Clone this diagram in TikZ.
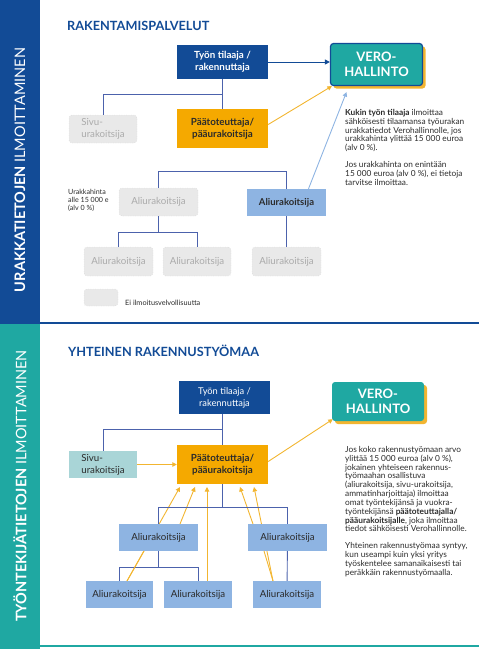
\documentclass[tikz,border=0pt]{standalone}
\usepackage{fontspec}
\setmainfont{Lato}
\usepackage{tikz}
\usetikzlibrary{arrows.meta,calc,positioning,shadows}
\definecolor{vdark}{HTML}{124B96}
\definecolor{vteal}{HTML}{1FA8A2}
\definecolor{vorange}{HTML}{F5A900}
\definecolor{vlight}{HTML}{8EB4E2}
\definecolor{vgreyfill}{HTML}{E9E9E9}
\definecolor{vgreyline}{HTML}{C9C9C9}
\definecolor{vgreytext}{HTML}{ABABAB}
\definecolor{vsivu}{HTML}{A9D5D7}
\definecolor{vline}{HTML}{4C62AC}
\definecolor{vgold}{HTML}{F2B530}
\definecolor{vtext}{HTML}{2B2B2B}
\tikzset{
  box/.style={rectangle,inner sep=0pt,align=center,font=\fontsize{9.7}{12}\selectfont},
  tilaajabox/.style={box,fill=vdark,text=white},
  paabox/.style={box,fill=vorange,text=vtext,font=\fontsize{9.8}{12}\selectfont\bfseries,minimum width=91pt,minimum height=39pt},
  alibox/.style={box,fill=vlight,text=vtext},
  greybox/.style={box,fill=vgreyfill,draw=vgreyline,dotted,rounded corners=3pt,text=vgreytext},
  verobox/.style={box,fill=vteal,text=white,rounded corners=3pt,font=\fontsize{13}{15.5}\selectfont\bfseries,
    drop shadow={fill=vgold,opacity=1,shadow xshift=3pt,shadow yshift=-3pt}},
  conn/.style={draw=vline,line width=0.9pt},
  yarrow/.style={draw=vgold,line width=0.9pt,-{Triangle[length=4.5pt,width=4.5pt]}},
  body/.style={anchor=north west,align=left,inner sep=0pt,text=vtext,font=\fontsize{8.3}{8.85}\selectfont},
  titletext/.style={anchor=west,inner sep=0pt,text=vdark,font=\fontsize{12.7}{14}\selectfont\bfseries},
  sidetext/.style={rotate=90,text=white,inner sep=0pt,font=\fontsize{14.5}{16}\selectfont}
}

\begin{document}
\begin{tikzpicture}[x=1pt,y=-1pt]
\useasboundingbox (0,0) rectangle (479,649);
% side bands
\fill[vdark] (0,0) rectangle (40,324);
\fill[vteal] (0,324) rectangle (40,649);
\draw[vdark,line width=1.5pt] (40,323) -- (479,323);
\draw[vteal,line width=1.5pt] (40,646) -- (479,646);
\node[sidetext] (side1) at (20,170) {\textbf{URAKKATIETOJEN} ILMOITTAMINEN};
\node[sidetext] (side2) at (20,486) {\textbf{TYÖNTEKIJÄTIETOJEN} ILMOITTAMINEN};

% ---- upper part: rakentamispalvelut ----
\node[titletext] (title1) at (67,26) {RAKENTAMISPALVELUT};
\node[tilaajabox,font=\fontsize{9.8}{12}\selectfont\bfseries,minimum width=91pt,minimum height=34pt] (tilaaja) at (222.5,62) {Työn tilaaja /\\rakennuttaja};
\node[verobox,draw=vdark,line width=1.2pt,minimum width=92pt,minimum height=42pt] (vero) at (376.5,64.5) {VERO-\\HALLINTO};
\node[paabox] (paa) at (222.5,128.5) {Päätoteuttaja/\\pääurakoitsija};
\node[greybox,minimum width=68pt,minimum height=28pt,align=left] (sivu) at (103,129) {Sivu-\\urakoitsija};
\node[greybox,minimum width=79pt,minimum height=28pt] (aliA) at (158.5,202) {Aliurakoitsija};
\node[alibox,font=\fontsize{9.5}{11}\selectfont\bfseries,minimum width=79pt,minimum height=27pt] (aliB) at (286.5,202.5) {Aliurakoitsija};
\node[greybox,minimum width=69pt,minimum height=29pt] (aliC) at (118.5,261.5) {Aliurakoitsija};
\node[greybox,minimum width=68pt,minimum height=29pt] (aliD) at (197,261.5) {Aliurakoitsija};
\node[greybox,minimum width=69pt,minimum height=29pt] (aliE) at (286.5,261.5) {Aliurakoitsija};
\node[greybox,minimum width=34pt,minimum height=17pt] (legend) at (101,297.5) {};
\node[anchor=west,inner sep=0pt,text=vtext,font=\fontsize{7.3}{8}\selectfont] (legendtxt) at (125,303) {Ei ilmoitusvelvollisuutta};
\node[anchor=north west,align=left,inner sep=0pt,text=vtext,font=\fontsize{7.1}{8}\selectfont] (hinta) at (68,189) {Urakkahinta\\alle 15 000 e\\(alv 0 \%)};

\draw[conn] (tilaaja) -- (paa);
\draw[conn] (paa.north) ++(0,-14) -| (sivu.north);
\draw[conn] (paa.south) ++(0,23) -| (aliA.north);
\draw[conn] (paa.south) ++(0,23) -| (aliB.north);
\draw[conn] (aliA.south) ++(0,16) -| (aliC.north);
\draw[conn] (aliA.south) ++(0,16) -| (aliD.north);
\draw[conn] (aliA.south) -- ++(0,16);
\draw[conn] (aliB) -- (aliE);
\draw[draw=vdark,line width=1pt,-{Triangle[length=5pt,width=5pt]}] (tilaaja.east) -- (vero.west |- tilaaja.east);
\draw[yarrow] (paa.east) ++(0,-4) -- ([xshift=2pt]vero.south west);
\draw[draw=vlight,line width=0.9pt,-{Triangle[length=4.5pt,width=4.5pt]}] ([xshift=22pt]aliB.north) -- ([xshift=-30pt,yshift=-6pt]vero.south);

\node[body] (info1) at (345,109) {\textbf{Kukin työn tilaaja} ilmoittaa\\sähköisesti tilaamansa työurakan\\urakkatiedot Verohallinnolle, jos\\urakkahinta ylittää 15 000 euroa\\(alv 0 \%).\\[8pt]Jos urakkahinta on enintään\\15 000 euroa (alv 0 \%), ei tietoja\\tarvitse ilmoittaa.};

% ---- lower part: yhteinen rakennustyömaa ----
\node[titletext] (title2) at (68,351) {YHTEINEN RAKENNUSTYÖMAA};

% arrows first, boxes drawn over them
\draw[yarrow] (127,581) -- (180,487);
\draw[yarrow] (180,524) -- (195,487);
\draw[yarrow] (207,581) -- (207,487);
\draw[yarrow] (253,524) -- (240,487);
\draw[yarrow] (273,581) -- (254,487);

\node[tilaajabox,font=\fontsize{9.3}{12}\selectfont,minimum width=91pt,minimum height=33pt] (tilaaja2) at (224.5,397.5) {Työn tilaaja /\\rakennuttaja};
\node[verobox,minimum width=92pt,minimum height=39pt] (vero2) at (378,401.5) {VERO-\\HALLINTO};
\node[paabox] (paa2) at (222.5,464.5) {Päätoteuttaja/\\pääurakoitsija};
\node[box,fill=vsivu,text=vtext,align=left,minimum width=68pt,minimum height=27pt] (sivu2) at (103,464.5) {Sivu-\\urakoitsija};
\node[alibox,minimum width=79pt,minimum height=27pt] (ali2L) at (158.5,537.5) {Aliurakoitsija};
\node[alibox,minimum width=79pt,minimum height=27pt] (ali2R) at (287.5,537.5) {Aliurakoitsija};
\node[alibox,minimum width=67pt,minimum height=27pt] (ali2C) at (119.5,594.5) {Aliurakoitsija};
\node[alibox,minimum width=68pt,minimum height=27pt] (ali2D) at (198,594.5) {Aliurakoitsija};
\node[alibox,minimum width=68pt,minimum height=27pt] (ali2E) at (287,594.5) {Aliurakoitsija};

\draw[conn] (tilaaja2.south -| paa2.north) -- (paa2.north);
\draw[conn] (paa2.north) ++(0,-15) -| (sivu2.north);
\draw[conn] (paa2.south) ++(0,23) -| (ali2L.north);
\draw[conn] (paa2.south) ++(0,23) -| (ali2R.north);
\draw[conn] (paa2.south) -- ++(0,23);
\draw[conn] (ali2L.south) ++(0,16) -| (ali2C.north);
\draw[conn] (ali2L.south) ++(0,16) -| (ali2D.north);
\draw[conn] (ali2L.south) -- ++(0,16);
\draw[conn] (ali2R) -- (ali2E);
% the two through arrows seen between the rows
\draw[draw=vgold,line width=0.9pt] (127,581) -- (144,551);
\draw[draw=vgold,line width=0.9pt] (273,581) -- (264,551);
\draw[yarrow] (sivu2) -- (paa2);
\draw[yarrow] (paa2.east) ++(0,-3) -- ([xshift=1pt,yshift=2pt]vero2.south west);

\node[body] (info2) at (345,446) {Jos koko rakennustyömaan arvo\\ylittää 15 000 euroa (alv 0 \%),\\jokainen yhteiseen rakennus-\\työmaahan osallistuva\\(aliurakoitsija, sivu-urakoitsija,\\ammatinharjoittaja) ilmoittaa\\omat työntekijänsä ja vuokra-\\työntekijänsä \textbf{päätoteuttajalla/}\\\textbf{pääurakoitsijalle}, joka ilmoittaa\\tiedot sähköisesti Verohallinnolle.\\[8pt]Yhteinen rakennustyömaa syntyy,\\kun useampi kuin yksi yritys\\työskentelee samanaikaisesti tai\\peräkkäin rakennustyömaalla.};
\end{tikzpicture}
\end{document}
